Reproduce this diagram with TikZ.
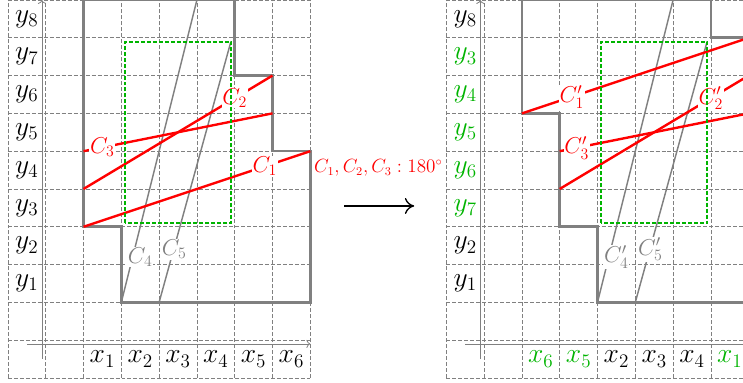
\documentclass[tikz,border=0pt]{standalone}
\usetikzlibrary{arrows.meta}
\definecolor{verde}{RGB}{0,180,0}
\begin{document}
\begin{tikzpicture}[
        griglia/.style={gray, line width=0.5pt, dash pattern=on 3pt off 1.5pt},
        assi/.style={gray, semithick, ->},
        bordo/.style={gray, line width=2pt},
        corda/.style={red, line width=1.8pt},
        linea/.style={gray, line width=1.1pt},
        rett/.style={verde, line width=1.5pt, dash pattern=on 3pt off 1.5pt},
        etic/.style={font=\huge, inner sep=0pt},
        etc/.style={font=\LARGE, fill=white, inner sep=0.5pt}]
        \useasboundingbox (-0.21,-0.13) rectangle (19.45,10);
        \clip (-0.21,-0.13) rectangle (19.45,10);
        % prima
        \draw[griglia] (0,0) grid (8,10);
        \draw[assi] (0.5,0.9) -- (8,0.9);\draw[assi] (0.9,0.5) -- (0.9,10);
        \draw[bordo] (2,10) -- (2,4) -- (3,4) -- (3,2) -- (8,2) -- (8,6) -- (7,6) -- (7,8) -- (6,8) -- (6,10) -- cycle;
        % linee grigie
        \draw[linea] (3,2) -- (5,10);\draw[linea] (4,2) -- (5.9,8.9);
        \node[etc, text=gray] (c4) at (3.5,3.2) {$C_4$};\node[etc, text=gray] (c5) at (4.4,3.4) {$C_5$};
        % corde
        \draw[corda] (2,4) -- (8,6) node[etc, pos=0.8] (c1) {$C_1$};
        \draw[corda] (2,5) -- (7,8) node[etc, pos=0.8] (c2) {$C_2$};
        \draw[corda] (2,6) -- (7,7) node[etc, pos=0.1] (c3) {$C_3$};
        \draw[rett] (3.1,4.1) rectangle (5.9,8.9);
        % etichette
        \node[etic] (y1) at (0.5,2.5) {$y_1$};\node[etic] (y2) at (0.5,3.5) {$y_2$};
        \node[etic] (y3) at (0.5,4.5) {$y_3$};\node[etic] (y4) at (0.5,5.5) {$y_4$};
        \node[etic] (y5) at (0.5,6.5) {$y_5$};\node[etic] (y6) at (0.5,7.5) {$y_6$};
        \node[etic] (y7) at (0.5,8.5) {$y_7$};\node[etic] (y8) at (0.5,9.5) {$y_8$};
        \node[etic] (x1) at (2.5,0.5) {$x_1$};\node[etic] (x2) at (3.5,0.5) {$x_2$};
        \node[etic] (x3) at (4.5,0.5) {$x_3$};\node[etic] (x4) at (5.5,0.5) {$x_4$};
        \node[etic] (x5) at (6.5,0.5) {$x_5$};\node[etic] (x6) at (7.5,0.5) {$x_6$};
        % rotazione
        \coordinate (da) at (8.9,4.55);\coordinate (a) at (10.75,4.55);
        \draw[line width=1pt, -{Computer Modern Rightarrow[length=7pt, width=12pt]}] (da) -- (a);
        \node[red, font=\fontsize{13.3}{16}\selectfont] (rot) at (9.8,5.56) {$C_1, C_2, C_3 : 180^\circ$};
        % dopo
        \begin{scope}[xshift=11.6cm]
        \draw[griglia] (0,0) grid (8,10);
        \draw[assi] (0.5,0.9) -- (8,0.9);\draw[assi] (0.9,0.5) -- (0.9,10);
        \draw[bordo] (2,10) -- (2,7) -- (3,7) -- (3,4) -- (4,4) -- (4,2) -- (8,2) -- (8,9) -- (7,9) -- (7,10) -- cycle;
        % linee grigie
        \draw[linea] (4,2) -- (6,10);\draw[linea] (5,2) -- (6.9,8.9);
        \node[etc, text=gray] (d4) at (4.5,3.2) {$C'_4$};\node[etc, text=gray] (d5) at (5.4,3.4) {$C'_5$};
        % corde
        \draw[corda] (2,7) -- (8,9) node[etc, pos=0.22] (d1) {$C'_1$};
        \draw[corda] (3,5) -- (8,8) node[etc, pos=0.8] (d2) {$C'_2$};
        \draw[corda] (3,6) -- (8,7) node[etc, pos=0.09] (d3) {$C'_3$};
        \draw[rett] (4.1,4.1) rectangle (6.9,8.9);
        % etichette
        \node[etic] (z1) at (0.5,2.5) {$y_1$};\node[etic] (z2) at (0.5,3.5) {$y_2$};
        \node[etic, text=verde] (z7) at (0.5,4.5) {$y_7$};\node[etic, text=verde] (z6) at (0.5,5.5) {$y_6$};
        \node[etic, text=verde] (z5) at (0.5,6.5) {$y_5$};\node[etic, text=verde] (z4) at (0.5,7.5) {$y_4$};
        \node[etic, text=verde] (z3) at (0.5,8.5) {$y_3$};\node[etic] (z8) at (0.5,9.5) {$y_8$};
        \node[etic, text=verde] (w6) at (2.5,0.5) {$x_6$};\node[etic, text=verde] (w5) at (3.5,0.5) {$x_5$};
        \node[etic] (w2) at (4.5,0.5) {$x_2$};\node[etic] (w3) at (5.5,0.5) {$x_3$};
        \node[etic] (w4) at (6.5,0.5) {$x_4$};\node[etic, text=verde] (w1) at (7.5,0.5) {$x_1$};
        \end{scope}
\end{tikzpicture}
\end{document}
